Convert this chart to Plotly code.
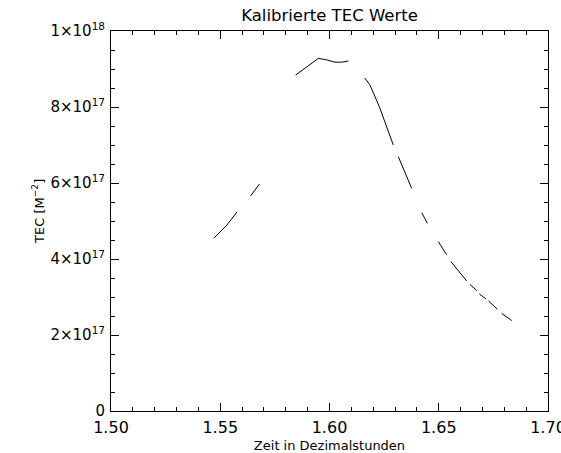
import plotly.graph_objects as go

# Segments of calibrated TEC values (gaps between segments = None)
zeit = [
    1.5471, 1.5530, 1.5577, None,
    1.5639, 1.5679, None,
    1.5845, 1.5941, 1.5949, 1.5987, 1.6025, 1.6056, 1.6086, None,
    1.6162, 1.6185, 1.6228, 1.6246, 1.6292, None,
    1.6315, 1.6376, None,
    1.6422, 1.6448, None,
    1.6498, 1.6536, None,
    1.6556, 1.6628, None,
    1.6643, 1.6674, None,
    1.6686, 1.6716, None,
    1.6727, 1.6768, None,
    1.6788, 1.6834,
]
tec_e18 = [
    0.455, 0.489, 0.524, None,
    0.566, 0.597, None,
    0.884, 0.926, 0.928, 0.924, 0.918, 0.918, 0.921, None,
    0.876, 0.858, 0.801, 0.774, 0.700, None,
    0.669, 0.586, None,
    0.522, 0.494, None,
    0.446, 0.411, None,
    0.393, 0.342, None,
    0.333, 0.317, None,
    0.308, 0.295, None,
    0.290, 0.268, None,
    0.257, 0.238,
]
tec = [None if v is None else v * 1e18 for v in tec_e18]

x_range = [1.50, 1.70]
y_range = [0, 1e18]
x_ticks = [1.50, 1.55, 1.60, 1.65, 1.70]
x_ticktext = ["1.50", "1.55", "1.60", "1.65", "1.70"]
y_ticks = [0, 2e17, 4e17, 6e17, 8e17, 1e18]
y_ticktext = ["0", "2×10<sup>17</sup>", "4×10<sup>17</sup>", "6×10<sup>17</sup>",
              "8×10<sup>17</sup>", "1×10<sup>18</sup>"]

FONT = "DejaVu Sans"

fig = go.Figure()
fig.add_trace(go.Scatter(x=zeit, y=tec, mode="lines", connectgaps=False,
                         line=dict(color="black", width=1), showlegend=False,
                         hoverinfo="skip"))
# empty trace so that the mirrored (top/right) axes get drawn
fig.add_trace(go.Scatter(x=[None], y=[None], xaxis="x2", yaxis="y2", mode="lines",
                         showlegend=False, hoverinfo="skip"))

common = dict(showgrid=False, zeroline=False, showline=True, linecolor="black",
              linewidth=1, ticks="inside", ticklen=8, tickcolor="black", tickwidth=1,
              automargin=False)

fig.update_layout(
    width=561, height=453,
    margin=dict(l=111, r=13, t=31, b=42),
    paper_bgcolor="white", plot_bgcolor="white",
    font=dict(family=FONT, color="black", size=16),
    title=dict(text="Kalibrierte TEC Werte", x=0.5, xref="paper", xanchor="center",
               y=1 - 15 / 453, yref="container", yanchor="middle",
               font=dict(family=FONT, size=16.5, color="black")),
    xaxis=dict(range=x_range, tickvals=x_ticks, ticktext=x_ticktext,
               minor=dict(dtick=0.01, ticks="inside", ticklen=4, tickcolor="black"),
               tickfont=dict(family=FONT, size=16, color="black"), ticklabeloverflow="allow",
               ticklabelstandoff=2,
               title=dict(text="Zeit in Dezimalstunden",
                          font=dict(family=FONT, size=13, color="black"), standoff=4),
               **common),
    yaxis=dict(range=y_range, tickvals=y_ticks, ticktext=y_ticktext,
               minor=dict(dtick=5e16, ticks="inside", ticklen=4, tickcolor="black"),
               tickfont=dict(family=FONT, size=15, color="black"), ticklabelstandoff=2,
               **common),
    xaxis2=dict(range=x_range, tickvals=x_ticks, overlaying="x", side="top",
                showticklabels=False,
                minor=dict(dtick=0.01, ticks="inside", ticklen=4, tickcolor="black"),
                **common),
    yaxis2=dict(range=y_range, tickvals=y_ticks, overlaying="y", side="right",
                showticklabels=False,
                minor=dict(dtick=5e16, ticks="inside", ticklen=4, tickcolor="black"),
                **common),
    annotations=[dict(text="TEC [M<sup>−2</sup>]", textangle=-90, showarrow=False,
                      xref="paper", yref="paper", x=-0.167, y=0.524,
                      xanchor="center", yanchor="middle",
                      font=dict(family=FONT, size=13, color="black"))],
)

fig.write_html("out.html", config={"displayModeBar": False},
               post_script="document.body.style.margin='0px';")
